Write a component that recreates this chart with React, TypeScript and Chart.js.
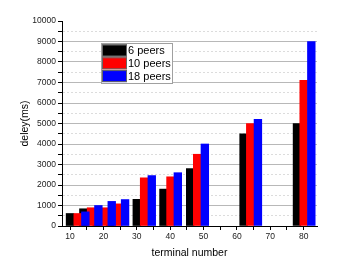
import { useEffect, useRef } from 'react';
import { Chart, registerables } from 'chart.js';

Chart.register(...registerables);

const seriesNames = ['6 peers', '10 peers', '18 peers'];
const seriesColors = ['#000000', '#ff0000', '#0000ff'];

const terminals6 = [10, 14, 18, 22, 30, 38, 46, 62, 78];
const delay6 = [610, 840, 800, 850, 1300, 1800, 2800, 4500, 5000];

const terminals10 = [12.3, 16.3, 20.3, 24.4, 32.2, 40.1, 48.1, 64, 80];
const delay10 = [610, 890, 890, 1080, 2350, 2400, 3500, 5000, 7100];

const terminals18 = [14.6, 18.5, 22.5, 26.5, 34.5, 42.3, 50.4, 66.3, 82.3];
const delay18 = [690, 1000, 1200, 1290, 2460, 2600, 4000, 5200, 9000];

const xTickValues = [10, 15, 20, 25, 30, 35, 40, 45, 50, 55, 60, 65, 70, 75, 80];
const xMin = 7.6;
const xMax = 84;
const yMin = 0;
const yMax = 10000;

const FONT = '"Liberation Sans", Arial, sans-serif';

const legendPlugin = {
  id: 'boxLegend',
  afterDraw(chart: any) {
    const { ctx, chartArea } = chart;
    const x0 = chartArea.left + 39;
    const y0 = chartArea.top + 22;
    const w = 71;
    const h = 40;
    ctx.save();
    ctx.fillStyle = '#ffffff';
    ctx.fillRect(x0, y0, w, h);
    ctx.strokeStyle = '#a0a0a0';
    ctx.lineWidth = 1;
    ctx.strokeRect(x0 + 0.5, y0 + 0.5, w, h);
    chart.data.datasets.forEach((ds: any, i: number) => {
      const ry = y0 + 1.5 + i * 12.8;
      ctx.fillStyle = ds.backgroundColor;
      ctx.fillRect(x0 + 1, ry, 25, 12);
      ctx.strokeStyle = '#666666';
      ctx.strokeRect(x0 + 1.5, ry + 0.5, 24, 11);
      ctx.fillStyle = '#000000';
      ctx.font = `11px ${FONT}`;
      ctx.textBaseline = 'middle';
      ctx.textAlign = 'left';
      ctx.fillText(ds.label, x0 + 27, ry + 6.5);
    });
    ctx.restore();
  },
};

export default function App() {
  const ref = useRef<HTMLCanvasElement | null>(null);

  useEffect(() => {
    if (!ref.current) return;
    const series = [
      { xs: terminals6, ys: delay6 },
      { xs: terminals10, ys: delay10 },
      { xs: terminals18, ys: delay18 },
    ];
    const datasets = series.map((s, i) => ({
      label: seriesNames[i],
      data: s.xs.map((x, j) => ({ x, y: s.ys[j] })),
      backgroundColor: seriesColors[i],
      borderWidth: 0,
      barThickness: 7.7,
      grouped: false,
      order: 3 - i,
    }));

    const chart = new Chart(ref.current, {
      type: 'bar',
      data: { datasets } as any,
      plugins: [legendPlugin],
      options: {
        animation: false,
        responsive: false,
        devicePixelRatio: 1,
        layout: { padding: { left: 0, top: 21, right: 22, bottom: 0 } },
        plugins: {
          legend: { display: false },
          tooltip: { enabled: false },
        },
        scales: {
          x: {
            type: 'linear',
            min: xMin,
            max: xMax,
            offset: false,
            afterBuildTicks: (scale: any) => {
              scale.ticks = xTickValues.map((v) => ({ value: v }));
            },
            afterFit: (scale: any) => {
              scale.height = 40;
            },
            grid: {
              offset: false,
              drawOnChartArea: false,
              drawTicks: true,
              tickLength: 4,
              tickColor: '#000000',
              tickWidth: 1,
            },
            border: { display: true, color: '#000000', width: 1, z: 1 },
            ticks: {
              autoSkip: false,
              maxRotation: 0,
              padding: 2,
              color: '#222222',
              font: { family: FONT, size: 8.5 },
              callback: (v: any) => (Number(v) % 10 === 0 ? String(v) : ''),
            },
            title: {
              display: true,
              text: 'terminal number',
              color: '#000000',
              font: { family: FONT, size: 10.5 },
              padding: { top: 0, bottom: 7 },
            },
          },
          y: {
            type: 'linear',
            min: yMin,
            max: yMax,
            afterFit: (scale: any) => {
              scale.width = 62;
            },
            grid: {
              drawTicks: true,
              tickLength: 4,
              tickColor: '#000000',
              tickWidth: 1,
              color: (c: any) => {
                const v = c.tick ? c.tick.value : 0;
                if (v === yMin || v === yMax) return 'rgba(0,0,0,0)';
                return v % 1000 === 0 ? '#b8b8b8' : '#dcdcdc';
              },
            },
            border: {
              display: true,
              color: '#000000',
              width: 1,
              z: 1,
              dash: (c: any) => {
                const v = c && c.tick ? c.tick.value : null;
                if (v === null) return [];
                return v % 1000 === 0 ? [] : [2, 2];
              },
            },
            ticks: {
              stepSize: 500,
              autoSkip: false,
              padding: 2,
              color: '#222222',
              font: { family: FONT, size: 8.5 },
              callback: (v: any) => (Number(v) % 1000 === 0 ? String(v) : ''),
            },
            title: {
              display: true,
              text: 'deley(ms)',
              color: '#000000',
              font: { family: FONT, size: 10.5 },
              padding: { top: 19, bottom: 0 },
            },
          },
        },
      } as any,
    });
    return () => chart.destroy();
  }, []);

  return (
    <div
      style={{
        position: 'fixed',
        left: 0,
        top: 0,
        width: 339,
        height: 266,
        background: '#ffffff',
      }}
    >
      <canvas ref={ref} width={339} height={266} style={{ width: 339, height: 266 }} />
    </div>
  );
}
